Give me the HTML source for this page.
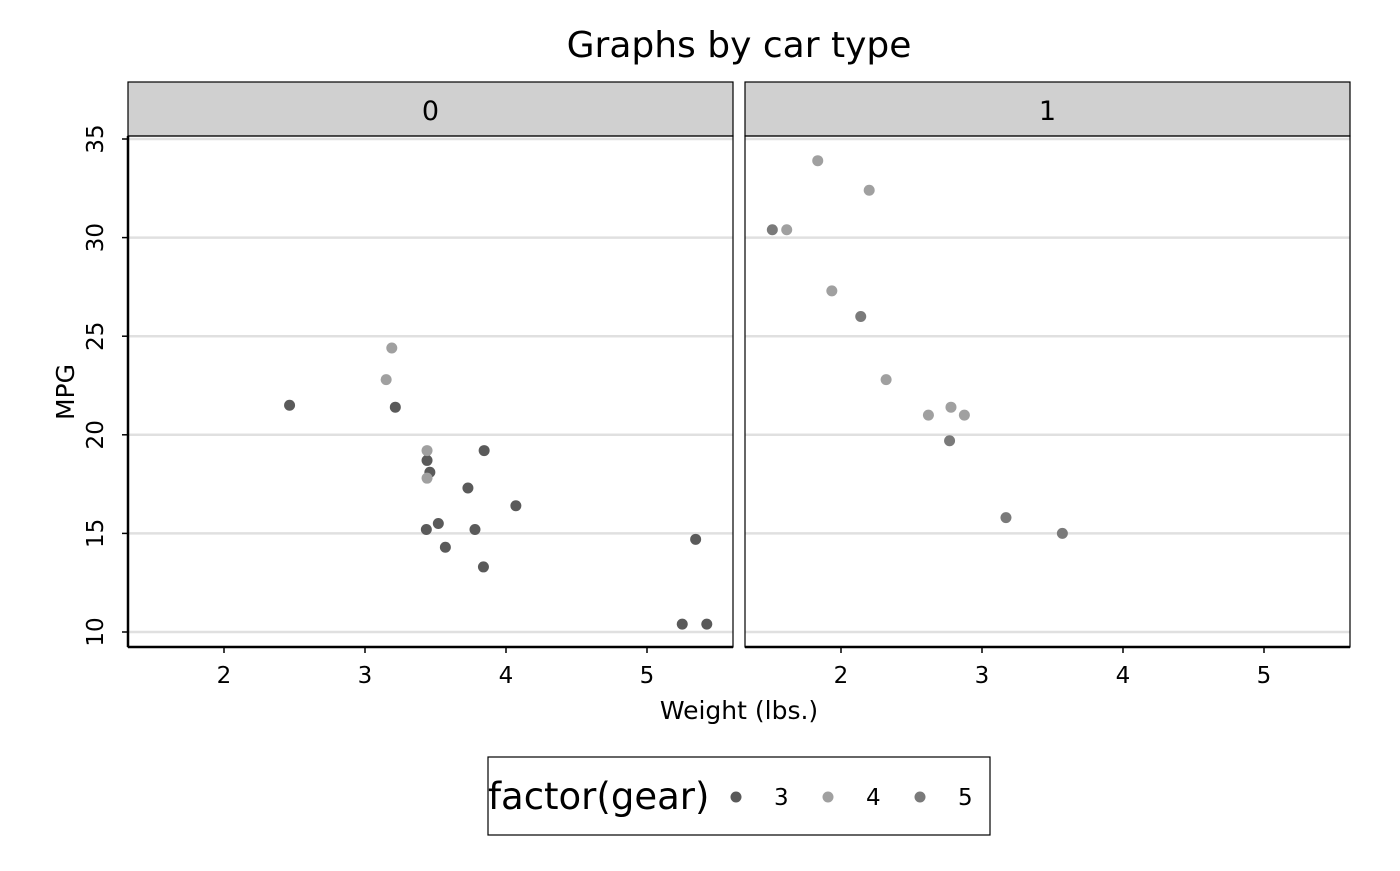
<!DOCTYPE html>
<html><head><meta charset="utf-8"><style>
body{margin:0;background:#fff;}
svg text{font-family:"DejaVu Sans","Liberation Sans",sans-serif;}
</style></head><body>
<svg id="chart" width="1400" height="866" xmlns="http://www.w3.org/2000/svg">
<text x="739" y="57" font-size="36" text-anchor="middle">Graphs by car type</text>
<g id="plot"></g>
<text x="739" y="719" font-size="25" text-anchor="middle">Weight (lbs.)</text>
<text transform="translate(74,392) rotate(-90)" font-size="25" text-anchor="middle">MPG</text>
<g>
<rect x="488" y="757" width="502" height="78" fill="#fff" stroke="#000" stroke-width="1.2"/>
<text x="488" y="809" font-size="37">factor(gear)</text>
<circle cx="736" cy="797" r="5.5" fill="#5a5a5a"/><text x="774" y="805" font-size="23">3</text>
<circle cx="828" cy="797" r="5.5" fill="#a0a0a0"/><text x="866" y="805" font-size="23">4</text>
<circle cx="920" cy="797" r="5.5" fill="#7a7a7a"/><text x="958" y="805" font-size="23">5</text>
</g>
</svg>
<script>
const panels=["0","1"];
const wt0=[3.215,3.44,3.46,3.57,3.19,3.15,3.44,3.44,4.07,3.73,3.78,5.25,5.424,5.345,2.465,3.52,3.435,3.84,3.845];
const mpg0=[21.4,18.7,18.1,14.3,24.4,22.8,19.2,17.8,16.4,17.3,15.2,10.4,10.4,14.7,21.5,15.5,15.2,13.3,19.2];
const gear0=[3,3,3,3,4,4,4,4,3,3,3,3,3,3,3,3,3,3,3];
const wt1=[2.62,2.875,2.32,2.2,1.615,1.835,1.935,2.14,1.513,3.17,2.77,3.57,2.78];
const mpg1=[21,21,22.8,32.4,30.4,33.9,27.3,26,30.4,15.8,19.7,15,21.4];
const gear1=[4,4,4,4,4,4,4,5,5,5,5,5,4];
const xTicks=[2,3,4,5];
const yTicks=[10,15,20,25,30,35];
const gearColors={3:"#5a5a5a",4:"#a0a0a0",5:"#7a7a7a"};
const NS="http://www.w3.org/2000/svg";
const plotG=document.getElementById("plot");
function mk(t,a,p){const e=document.createElementNS(NS,t);for(const k in a)e.setAttribute(k,a[k]);(p||plotG).appendChild(e);return e;}
const pL=[128,745],pW=605,plotTop=136,plotBot=647;
function sx(i,v){return pL[i]+96+(v-2)*141;}
function sy(v){return 632-(v-10)*19.72;}
const data=[[wt0,mpg0,gear0],[wt1,mpg1,gear1]];
panels.forEach((p,i)=>{
  const x0=pL[i];
  const s=mk("rect",{x:x0,y:82,width:pW,height:54,fill:"#d0d0d0",stroke:"#000","stroke-width":1.2});
  
  
  const st=mk("text",{x:x0+pW/2,y:120,"font-size":27,"text-anchor":"middle"});st.textContent=p;
  
  
  yTicks.forEach(v=>{
    const l=mk("line",{x1:x0,x2:x0+pW,y1:sy(v),y2:sy(v),stroke:"#e0e0e0","stroke-width":2.5});
    
    
  });
  mk("rect",{x:x0,y:plotTop,width:pW,height:plotBot-plotTop,fill:"none",stroke:"#000","stroke-width":1.2});
  mk("line",{x1:x0,x2:x0+pW,y1:plotBot,y2:plotBot,stroke:"#000","stroke-width":2.5});
  xTicks.forEach(v=>{
    mk("line",{x1:sx(i,v),x2:sx(i,v),y1:plotBot,y2:plotBot+6,stroke:"#000","stroke-width":1.5});
    const t=mk("text",{x:sx(i,v),y:plotBot+36,"font-size":23,"text-anchor":"middle"});t.textContent=v;
    
    
  });
  const [xs,ys,gs]=data[i];
  xs.forEach((w,k)=>{
    const c=mk("circle",{cx:sx(i,w),cy:sy(ys[k]),r:5.5,fill:gearColors[gs[k]]});
    
    
  });
});
mk("line",{x1:128,x2:128,y1:plotTop,y2:plotBot,stroke:"#000","stroke-width":2.5});
yTicks.forEach(v=>{
  mk("line",{x1:122,x2:128,y1:sy(v),y2:sy(v),stroke:"#000","stroke-width":1.5});
  const t=mk("text",{transform:`translate(103,${sy(v)}) rotate(-90)`,"font-size":23,"text-anchor":"middle"});t.textContent=v;
  
  
});
</script>
</body></html>
